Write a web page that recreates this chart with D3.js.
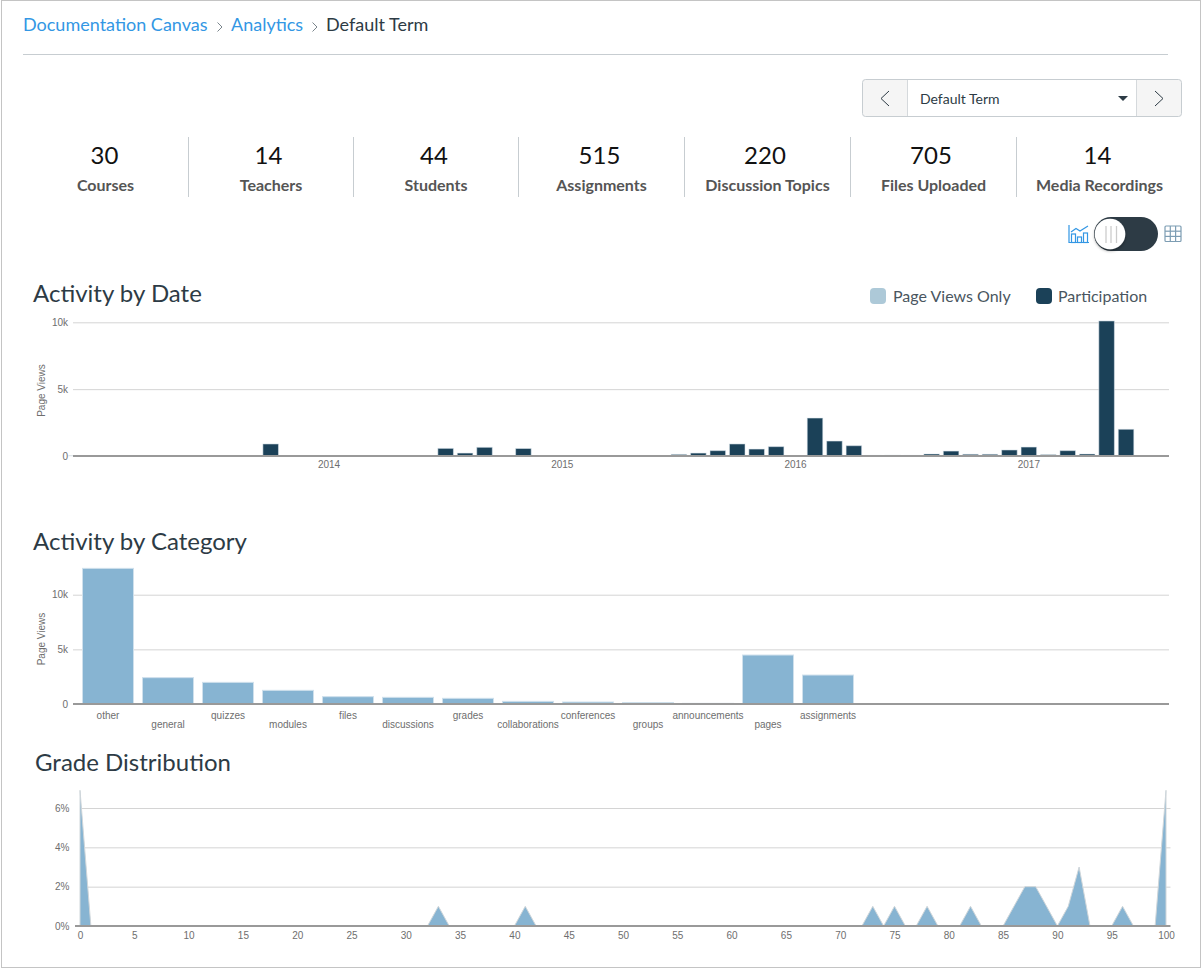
<!DOCTYPE html>
<html><head><meta charset="utf-8">
<script src="https://cdn.jsdelivr.net/npm/d3@7"></script>
<style>
html,body{margin:0;padding:0;background:#fff;overflow:hidden}
svg{display:block}
.ui{font-family:Lato,sans-serif}
.tick-text text,.axt{font-family:"Liberation Sans",Arial,sans-serif;font-size:10px;fill:#6e6e6e}
.domain{display:none}
</style></head><body>
<svg id="c" width="1204" height="971"></svg>
<script>
// ---- data ----
const crumbs = ["Documentation Canvas","Analytics","Default Term"];
const statValues = ["30","14","44","515","220","705","14"];
const statLabels = ["Courses","Teachers","Students","Assignments","Discussion Topics","Files Uploaded","Media Recordings"];
const dateMonths = ["2012-12",
 "2013-01","2013-02","2013-03","2013-04","2013-05","2013-06","2013-07","2013-08","2013-09","2013-10","2013-11","2013-12",
 "2014-01","2014-02","2014-03","2014-04","2014-05","2014-06","2014-07","2014-08","2014-09","2014-10","2014-11","2014-12",
 "2015-01","2015-02","2015-03","2015-04","2015-05","2015-06","2015-07","2015-08","2015-09","2015-10","2015-11","2015-12",
 "2016-01","2016-02","2016-03","2016-04","2016-05","2016-06","2016-07","2016-08","2016-09","2016-10","2016-11","2016-12",
 "2017-01","2017-02","2017-03","2017-04","2017-05","2017-06"];
const dateViews = [10,
 10,10,20,10,10,10,10,10,10,900,10,10,
 20,10,10,10,10,10,570,220,650,10,560,10,
 10,10,10,10,10,10,120,220,400,900,520,700,
 0,2840,1120,770,50,60,50,150,370,130,130,450,
 670,100,400,150,10100,2000];
const yearTicks = ["2014-01","2015-01","2016-01","2017-01"];
const categories = ["other","general","quizzes","modules","files","discussions","grades","collaborations","conferences","groups","announcements","pages","assignments"];
const categoryViews = [12410,2410,1980,1250,670,610,520,240,180,130,60,4480,2650];
const gradeScores = d3.range(0,101);
const gradePercents = [6.9,0,0,0,0,0,0,0,0,0,
 0,0,0,0,0,0,0,0,0,0,
 0,0,0,0,0,0,0,0,0,0,
 0,0,0,1,0,0,0,0,0,0,
 0,1,0,0,0,0,0,0,0,0,
 0,0,0,0,0,0,0,0,0,0,
 0,0,0,0,0,0,0,0,0,0,
 0,0,0,1,0,1,0,0,1,0,
 0,0,1,0,0,0,1,2,2,1,
 0,1,3,0,0,0,1,0,0,0,6.9];
const legendNames = ["Page Views Only","Participation"];

const dark="#1b4158", light="#87b4d2", ink="#2d3b45", blue="#3397e4";
const svg=d3.select("#c");
const defs=svg.append("defs");
defs.append("filter").attr("id","sh").attr("x","-30%").attr("y","-30%").attr("width","160%").attr("height","170%")
  .append("feDropShadow").attr("dx",0).attr("dy",1.5).attr("stdDeviation",1.5).attr("flood-color","#000").attr("flood-opacity",.4);
const T=(x,y,s,size,fill,anchor,weight,parent)=>(parent||svg).append("text").attr("class","ui").attr("x",x).attr("y",y).text(s)
  .attr("font-size",size).attr("fill",fill).attr("text-anchor",anchor||"start").attr("font-weight",weight||400);

// frame
svg.append("rect").attr("x",1.5).attr("y",.5).attr("width",1199).attr("height",967).attr("fill","#fff").attr("stroke","#c4c4c4");

// breadcrumb
T(23,31,crumbs[0],18,blue);
T(231,31,crumbs[1],18,blue);
T(326,31,crumbs[2],18,ink);
[217.5,312.5].forEach(x=>svg.append("path").attr("d",`M${x} 22.5L${x+4.5} 27L${x} 31.5`).attr("fill","none").attr("stroke","#7a858c").attr("stroke-width",1));
svg.append("line").attr("x1",23).attr("x2",1168).attr("y1",54.5).attr("y2",54.5).attr("stroke","#c7cdd1");

// term selector
svg.append("rect").attr("x",862.5).attr("y",79.5).attr("width",319).attr("height",37).attr("rx",3).attr("fill","#f5f5f5").attr("stroke","#c7cdd1");
svg.append("rect").attr("x",907.5).attr("y",80).attr("width",229).attr("height",36).attr("fill","#fff");
[907.5,1136.5].forEach(x=>svg.append("line").attr("x1",x).attr("x2",x).attr("y1",80).attr("y2",116).attr("stroke","#d5d9dc"));
svg.append("path").attr("d","M889 91L881 98.5L889 106").attr("fill","none").attr("stroke","#2d3b45").attr("stroke-width",1);
svg.append("path").attr("d","M1155 91L1163 98.5L1155 106").attr("fill","none").attr("stroke","#2d3b45").attr("stroke-width",1);
T(920,103.5,"Default Term",14,ink);
svg.append("path").attr("d","M1118 96H1128L1123 101Z").attr("fill","#2d3b45");

// stats
const statNumX=[104.5,268.5,434,599.5,765,931,1097.5], statLabX=[105.5,271,436,601.5,767.5,933.5,1099.5];
statValues.forEach((v,i)=>{
  T(statNumX[i],164,v,24,"#111","middle");
  T(statLabX[i],191,statLabels[i],16,"#555","middle",700);
});
[188.5,353.5,518.5,684.5,850.5,1016.5].forEach(x=>svg.append("line").attr("x1",x).attr("x2",x).attr("y1",137).attr("y2",197).attr("stroke","#c7cdd1"));

// toggle + icons
const ic=svg.append("g").attr("fill","none").attr("stroke",blue).attr("stroke-width",1.2);
ic.append("path").attr("d","M1069 225V242.5H1089");
ic.append("path").attr("d","M1071 232L1076 228.5L1080 231L1088 226");
[[1071.5,234],[1077.5,237],[1083.5,233]].forEach(([x,y])=>ic.append("rect").attr("x",x).attr("y",y).attr("width",4).attr("height",242.5-y));
svg.append("rect").attr("x",1094).attr("y",217).attr("width",64).attr("height",34).attr("rx",17).attr("fill",ink);
svg.append("circle").attr("cx",1110).attr("cy",234).attr("r",15.3).attr("fill","#fff").attr("filter","url(#sh)");
[1106,1111,1116.5].forEach(x=>svg.append("line").attr("x1",x).attr("x2",x).attr("y1",226).attr("y2",243).attr("stroke","#ccc").attr("stroke-width",1.3));
const gi=svg.append("g").attr("fill","none").attr("stroke","#7d9db3").attr("stroke-width",1.2);
gi.append("rect").attr("x",1165).attr("y",226).attr("width",16).attr("height",15.5).attr("rx",1);
[1170.3,1175.6].forEach(x=>gi.append("line").attr("x1",x).attr("x2",x).attr("y1",226).attr("y2",241.5));
[231.2,236.4].forEach(y=>gi.append("line").attr("x1",1165).attr("x2",1181).attr("y1",y).attr("y2",y));

// titles & legend
T(33,302,"Activity by Date",24,ink);
T(33,550,"Activity by Category",24,ink);
T(35,771,"Grade Distribution",24,ink);
[[870,"#adc9d8",893],[1036,dark,1058]].forEach(([x,c,tx],i)=>{
  svg.append("rect").attr("x",x).attr("y",288).attr("width",16).attr("height",16).attr("rx",4).attr("fill",c);
  T(tx,302,legendNames[i],16,"#4a5660");
});

const kfmt=d=>d===0?"0":(d/1000)+"k";
function yAxes(y,ticks,fmt,x0,x1){
  const grid=svg.append("g").attr("transform",`translate(${x0},0)`)
    .call(d3.axisLeft(y).tickValues(ticks.filter(t=>t!==0)).tickSize(-(x1-x0)).tickFormat(""));
  grid.selectAll("line").attr("stroke","#d4d4d4");
  return grid;
}
function yLabels(y,ticks,fmt,x){
  const g=svg.append("g").attr("class","tick-text").attr("transform",`translate(${x},0)`)
    .call(d3.axisLeft(y).tickValues(ticks).tickSize(0).tickPadding(0).tickFormat(fmt));
  g.selectAll("text").attr("fill","#666");
}
function baseline(yPos,x0,x1){
  svg.append("line").attr("x1",x0).attr("x2",x1).attr("y1",yPos).attr("y2",yPos).attr("stroke","#999").attr("stroke-width",2);
}
function yTitle(cy){
  svg.append("text").attr("transform",`translate(45,${cy}) rotate(-90)`).attr("text-anchor","middle")
    .attr("font-family","Liberation Sans, Arial, sans-serif").attr("font-size",10).attr("fill","#6e6e6e").text("Page Views");
}

// ---- Activity by Date ----
const monthStep=19.44;
const xDate=d3.scaleBand().domain(dateMonths).range([329-13.5*monthStep,329+41.5*monthStep]).paddingInner(.2).paddingOuter(.1);
const yDate=d3.scaleLinear().domain([0,10000]).range([456,322.3]);
yAxes(yDate,[0,5000,10000],kfmt,73,1169);
svg.append("g").selectAll("rect").data(dateMonths).join("rect")
  .attr("x",d=>xDate(d)).attr("width",xDate.bandwidth())
  .attr("y",(d,i)=>yDate(dateViews[i])).attr("height",(d,i)=>yDate(0)-yDate(dateViews[i]))
  .attr("fill",dark).attr("stroke","#dfe8ee").attr("stroke-opacity",.55).attr("stroke-width",1);
baseline(456,73,1169);
yLabels(yDate,[0,5000,10000],kfmt,68);
yTitle(390.5);
const xd=svg.append("g").attr("class","tick-text").attr("transform","translate(0,459)")
  .call(d3.axisBottom(xDate).tickValues(yearTicks).tickSize(0).tickPadding(2).tickFormat(d=>d.slice(0,4)));
xd.selectAll("text").attr("fill","#666");

// ---- Activity by Category ----
const xCat=d3.scaleBand().domain(categories).range([78,858]).paddingInner(.15).paddingOuter(.075);
const yCat=d3.scaleLinear().domain([0,10000]).range([704,594.7]);
yAxes(yCat,[0,5000,10000],kfmt,73,1169);
svg.append("g").selectAll("rect").data(categories).join("rect")
  .attr("x",d=>xCat(d)).attr("width",xCat.bandwidth())
  .attr("y",(d,i)=>yCat(categoryViews[i])).attr("height",(d,i)=>yCat(0)-yCat(categoryViews[i]))
  .attr("fill",light).attr("stroke","#cfe0ec").attr("stroke-width",1);
baseline(704,73,1169);
yLabels(yCat,[0,5000,10000],kfmt,68);
yTitle(639);
const xc=svg.append("g").attr("class","tick-text").attr("transform","translate(0,704)")
  .call(d3.axisBottom(xCat).tickSize(0));
xc.selectAll("text").attr("fill","#666").attr("y",(d,i)=>i%2?17:7.5);

// ---- Grade Distribution ----
const xGrade=d3.scaleLinear().domain([0,100]).range([80,1166]);
const yGrade=d3.scaleLinear().domain([0,6]).range([926,808]);
yAxes(yGrade,[0,2,4,6],null,80,1170.5);
svg.append("path").datum(gradeScores)
  .attr("d",d3.area().x(d=>xGrade(d)).y0(yGrade(0)).y1((d,i)=>yGrade(gradePercents[i])))
  .attr("fill",light).attr("stroke","#cfd6da").attr("stroke-width",1);
baseline(926,75,1170.5);
yLabels(yGrade,[0,2,4,6],d=>d+"%",69.5);
const xg=svg.append("g").attr("class","tick-text").attr("transform","translate(0,929.5)")
  .call(d3.axisBottom(xGrade).tickValues(d3.range(0,101,5)).tickSize(0).tickPadding(2));
xg.selectAll("text").attr("fill","#666");
</script>
</body></html>
